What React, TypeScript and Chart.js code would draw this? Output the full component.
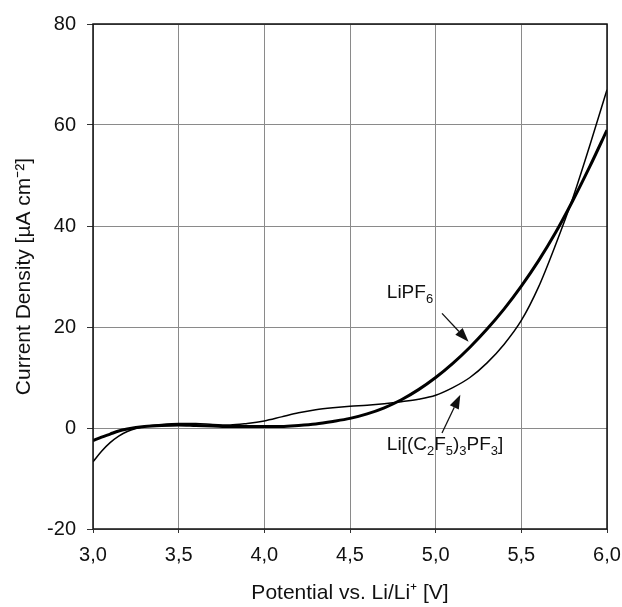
import React, { useEffect, useRef } from 'react';
import { Chart, registerables } from 'chart.js';

Chart.register(...registerables);

// Potential (V vs. Li/Li+)
const potentials = [3.0, 3.05, 3.1, 3.15, 3.2, 3.25, 3.3, 3.4, 3.5, 3.6, 3.7, 3.8, 3.9, 4.0, 4.1, 4.2, 4.3, 4.4, 4.5, 4.6, 4.7, 4.8, 4.9, 5.0, 5.1, 5.2, 5.3, 5.4, 5.5, 5.6, 5.7, 5.8, 5.9, 6.0];
// LiPF6 (thick line), µA cm^-2
const lipf6Current = [-2.5, -1.8, -1.2, -0.6, -0.2, 0.1, 0.3, 0.5, 0.6, 0.5, 0.4, 0.3, 0.3, 0.3, 0.3, 0.5, 0.8, 1.3, 1.9, 2.8, 4.0, 5.6, 7.6, 10.0, 12.8, 16.0, 19.6, 23.6, 28.1, 33.1, 38.7, 45.0, 51.8, 59.0];
// Li[(C2F5)3PF3] (thin line), µA cm^-2
const fapCurrent = [-6.7, -4.6, -2.9, -1.6, -0.7, -0.1, 0.3, 0.7, 0.9, 0.9, 0.7, 0.6, 0.9, 1.4, 2.2, 3.0, 3.6, 4.0, 4.3, 4.5, 4.8, 5.2, 5.7, 6.5, 8.0, 10.0, 12.9, 16.6, 21.3, 27.9, 36.3, 45.5, 56.0, 67.0];

const xTicks = [3.0, 3.5, 4.0, 4.5, 5.0, 5.5, 6.0];
const yTicks = [-20, 0, 20, 40, 60, 80];

const xTitle = 'Potential vs. Li/Li\u207A [V]';
const yTitle = 'Current Density [\u00B5A cm\u207B\u00B2]';

type Seg = { t: string; sub?: boolean };
const lipf6Label: Seg[] = [{ t: 'LiPF' }, { t: '6', sub: true }];
const fapLabel: Seg[] = [
  { t: 'Li[(C' }, { t: '2', sub: true }, { t: 'F' }, { t: '5', sub: true },
  { t: ')' }, { t: '3', sub: true }, { t: 'PF' }, { t: '3', sub: true }, { t: ']' },
];

// label anchor (data units: text start x, baseline y), arrow from/to (data units)
const annotations = [
  { segs: lipf6Label, x: 4.715, y: 25.7, from: [5.037, 22.7], to: [5.192, 17.1] },
  { segs: fapLabel, x: 4.715, y: -4.4, from: [5.037, -1.0], to: [5.144, 6.6] },
];

const FONT = '"Liberation Sans", Arial, sans-serif';

const fmt = (v: number) => v.toFixed(1).replace('.', ',');

export default function App() {
  const ref = useRef<HTMLCanvasElement | null>(null);

  useEffect(() => {
    if (!ref.current) return;

    const overlay = {
      id: 'overlay',
      afterDatasetsDraw(chart: any) {
        const { ctx, chartArea, scales } = chart;
        const xs = scales.x;
        const ys = scales.y;
        ctx.save();
        // frame
        ctx.strokeStyle = '#111';
        ctx.lineWidth = 1.5;
        ctx.strokeRect(chartArea.left, chartArea.top, chartArea.right - chartArea.left, chartArea.bottom - chartArea.top);

        ctx.fillStyle = '#111';
        ctx.strokeStyle = '#111';
        ctx.textBaseline = 'alphabetic';
        ctx.textAlign = 'left';
        for (const a of annotations) {
          let px = xs.getPixelForValue(a.x);
          const py = ys.getPixelForValue(a.y);
          for (const s of a.segs) {
            ctx.font = s.sub ? `13px ${FONT}` : `19px ${FONT}`;
            ctx.fillText(s.t, px, s.sub ? py + 5 : py);
            px += ctx.measureText(s.t).width;
          }
          const x1 = xs.getPixelForValue(a.from[0]);
          const y1 = ys.getPixelForValue(a.from[1]);
          const x2 = xs.getPixelForValue(a.to[0]);
          const y2 = ys.getPixelForValue(a.to[1]);
          const ang = Math.atan2(y2 - y1, x2 - x1);
          const hl = 14;
          const hw = 5;
          const bx = x2 - hl * Math.cos(ang);
          const by = y2 - hl * Math.sin(ang);
          ctx.lineWidth = 1.3;
          ctx.beginPath();
          ctx.moveTo(x1, y1);
          ctx.lineTo(bx, by);
          ctx.stroke();
          ctx.beginPath();
          ctx.moveTo(x2, y2);
          ctx.lineTo(bx + hw * Math.sin(ang), by - hw * Math.cos(ang));
          ctx.lineTo(bx - hw * Math.sin(ang), by + hw * Math.cos(ang));
          ctx.closePath();
          ctx.fill();
        }
        ctx.restore();
      },
    };

    const chart = new Chart(ref.current, {
      type: 'line',
      data: {
        datasets: [
          {
            label: 'LiPF6',
            data: potentials.map((p, i) => ({ x: p, y: lipf6Current[i] })),
            borderColor: '#000',
            borderWidth: 3,
            pointRadius: 0,
            cubicInterpolationMode: 'monotone',
            fill: false,
          },
          {
            label: 'Li[(C2F5)3PF3]',
            data: potentials.map((p, i) => ({ x: p, y: fapCurrent[i] })),
            borderColor: '#000',
            borderWidth: 1.5,
            pointRadius: 0,
            cubicInterpolationMode: 'monotone',
            fill: false,
          },
        ],
      },
      options: {
        responsive: false,
        animation: false,
        events: [],
        layout: { padding: { top: 24, right: 15, left: 0, bottom: 0 } },
        plugins: {
          legend: { display: false },
          tooltip: { enabled: false },
          title: { display: false },
        },
        scales: {
          x: {
            type: 'linear',
            min: 3,
            max: 6,
            afterBuildTicks: (s: any) => { s.ticks = xTicks.map((v) => ({ value: v })); },
            afterFit: (s: any) => { s.height = 78; s.paddingRight = 0; s.paddingLeft = 0; },
            ticks: {
              color: '#111',
              font: { family: FONT, size: 20 },
              padding: 10,
              maxRotation: 0,
              callback: (v: any) => fmt(Number(v)),
            },
            grid: { color: '#8a8a8a', lineWidth: 1, tickLength: 4, tickColor: '#333' },
            border: { display: false },
            title: {
              display: true,
              text: xTitle,
              color: '#111',
              font: { family: FONT, size: 21 },
              padding: { top: 0, bottom: 1 },
            },
          },
          y: {
            type: 'linear',
            min: -20,
            max: 80,
            afterBuildTicks: (s: any) => { s.ticks = yTicks.map((v) => ({ value: v })); },
            afterFit: (s: any) => { s.width = 93; s.paddingTop = 0; s.paddingBottom = 0; },
            ticks: {
              color: '#111',
              font: { family: FONT, size: 20 },
              padding: 11,
              callback: (v: any) => String(v),
            },
            grid: { color: '#8a8a8a', lineWidth: 1, tickLength: 6, tickColor: '#333' },
            border: { display: false },
            title: {
              display: true,
              text: yTitle,
              color: '#111',
              font: { family: FONT, size: 21 },
              padding: { top: 12, bottom: 0 },
            },
          },
        },
      },
      plugins: [overlay],
    } as any);

    return () => chart.destroy();
  }, []);

  return (
    <canvas
      ref={ref}
      width={622}
      height={607}
      style={{ position: 'absolute', left: 0, top: 0, width: 622, height: 607, background: '#fff' }}
    />
  );
}
